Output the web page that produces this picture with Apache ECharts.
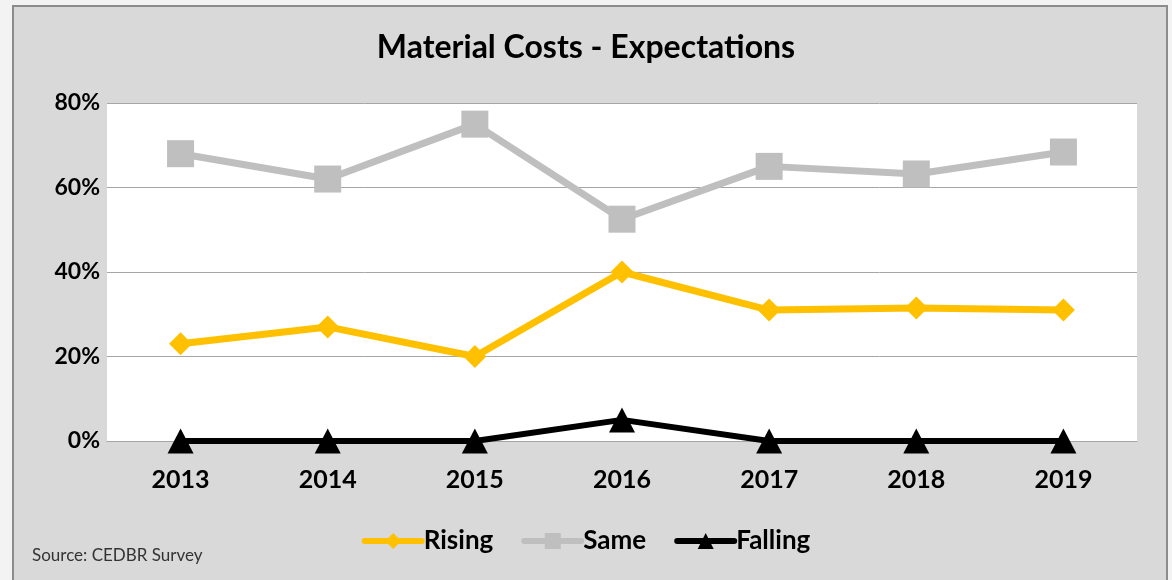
<!DOCTYPE html>
<html>
<head>
<meta charset="utf-8">
<script src="https://cdn.jsdelivr.net/npm/echarts@6/dist/echarts.min.js"></script>
<style>
  html, body { margin: 0; padding: 0; width: 1172px; height: 580px; overflow: hidden; background: #f3f3f3; }
  #frame { position: absolute; left: 12px; top: 5px; width: 1156px; height: 600px; background: #d9d9d9; border: 2px solid #8c8c8c; box-sizing: border-box; }
  #chart { position: absolute; left: 0; top: 0; width: 1172px; height: 580px; }
</style>
</head>
<body>
<div id="frame"></div>
<div id="chart"></div>
<script>
// Survey years
const years = ['2013', '2014', '2015', '2016', '2017', '2018', '2019'];
// Share of respondents (%) expecting material costs to rise / stay the same / fall
const rising = [23, 27, 20, 40, 31, 31.5, 31];
const same = [68, 62, 75, 52.5, 65, 63.2, 68.4];
const falling = [0, 0, 0, 5, 0, 0, 0];

const FONT = 'Lato, "Open Sans", "Liberation Sans", sans-serif';

const chart = echarts.init(document.getElementById('chart'), null, { renderer: 'canvas' });

chart.setOption({
  backgroundColor: 'transparent',
  animation: false,
  title: {
    text: 'Material Costs - Expectations',
    left: 'center',
    top: 27,
    textStyle: { fontFamily: FONT, fontSize: 32, fontWeight: 'bold', color: '#000' }
  },
  grid: {
    left: 107, right: 35, top: 103, bottom: 139,
    show: true, backgroundColor: '#ffffff', borderWidth: 0
  },
  legend: {
    top: 523,
    left: 'center',
    itemWidth: 57,
    itemHeight: 20,
    itemGap: 28,
    lineStyle: { width: 6, cap: 'round' },
    textStyle: { fontFamily: FONT, fontSize: 26, fontWeight: 'bold', color: '#000', padding: [0, 0, 0, -3] },
    data: ['Rising', 'Same', 'Falling']
  },
  xAxis: {
    type: 'category',
    data: years,
    boundaryGap: true,
    axisLine: { show: true, lineStyle: { color: '#a6a6a6', width: 1 } },
    axisTick: { show: false },
    axisLabel: { fontFamily: FONT, fontSize: 25, fontWeight: 'bold', color: '#000', margin: 26 }
  },
  yAxis: {
    type: 'value',
    min: 0, max: 80, interval: 20,
    axisLine: { show: false },
    axisTick: { show: false },
    splitLine: { lineStyle: { color: '#a6a6a6', width: 1 } },
    axisLabel: { fontFamily: FONT, fontSize: 23, fontWeight: 'bold', color: '#000', margin: 7, formatter: '{value}%' }
  },
  series: [
    {
      name: 'Rising', type: 'line', data: rising,
      symbol: 'diamond', symbolSize: 23,
      lineStyle: { color: '#ffc000', width: 7 },
      itemStyle: { color: '#ffc000' },
      z: 3
    },
    {
      name: 'Same', type: 'line', data: same,
      symbol: 'rect', symbolSize: 27,
      lineStyle: { color: '#bfbfbf', width: 7 },
      itemStyle: { color: '#bfbfbf' },
      z: 2
    },
    {
      name: 'Falling', type: 'line', data: falling,
      symbol: 'triangle', symbolSize: [26, 25],
      lineStyle: { color: '#000', width: 6 },
      itemStyle: { color: '#000' },
      z: 4
    }
  ],
  graphic: [
    {
      type: 'text', left: 32, top: 547,
      style: { text: 'Source: CEDBR Survey', font: '17px ' + FONT, fill: '#333' }
    }
  ]
});
</script>
</body>
</html>
